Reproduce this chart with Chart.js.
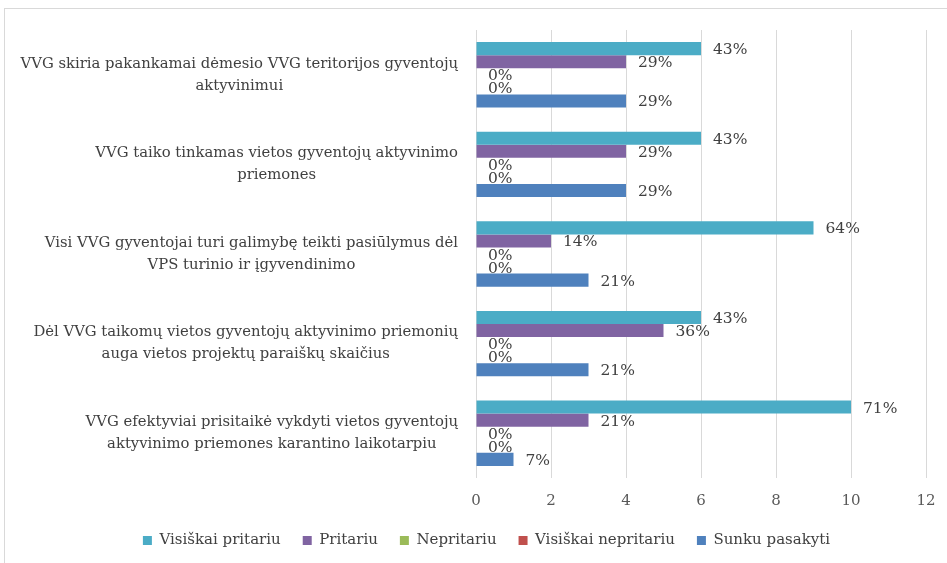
<!DOCTYPE html>
<html>
<head>
<meta charset="utf-8">
<script src="https://cdn.jsdelivr.net/npm/chart.js@4/dist/chart.umd.min.js"></script>
<style>
  html, body { margin: 0; padding: 0; background: #fff; }
  body { width: 947px; height: 563px; overflow: hidden; position: relative; }
  #frame {
    position: absolute; left: 4px; top: 8px; width: 960px; height: 580px;
    border: 1px solid #d9d9d9; box-sizing: border-box;
  }
  #chart { position: absolute; left: 5px; top: 9px; }
</style>
</head>
<body>
<div id="frame"></div>
<canvas id="chart" width="942" height="554"></canvas>
<script>
// category labels, already split into lines like the original
const categories = [
  ['VVG skiria pakankamai dėmesio VVG teritorijos gyventojų', 'aktyvinimui'],
  ['VVG taiko tinkamas vietos gyventojų aktyvinimo', 'priemones'],
  ['Visi VVG gyventojai turi galimybę teikti pasiūlymus dėl', 'VPS turinio ir įgyvendinimo'],
  ['Dėl VVG taikomų vietos gyventojų aktyvinimo priemonių', 'auga vietos projektų paraiškų skaičius'],
  ['VVG efektyviai prisitaikė vykdyti vietos gyventojų', 'aktyvinimo priemones karantino laikotarpiu'],
];

const seriesNames = ['Visiškai pritariu', 'Pritariu', 'Nepritariu', 'Visiškai nepritariu', 'Sunku pasakyti'];
const seriesColors = ['#4BACC6', '#8064A2', '#9BBB59', '#C0504D', '#4F81BD'];

// answer counts per category (14 respondents)
const visiskaiPritariu   = [6, 6, 9, 6, 10];
const pritariu           = [4, 4, 2, 5, 3];
const nepritariu         = [0, 0, 0, 0, 0];
const visiskaiNepritariu = [0, 0, 0, 0, 0];
const sunkuPasakyti      = [4, 4, 3, 3, 1];

const xTicks = [0, 2, 4, 6, 8, 10, 12];

const SERIF = '"DejaVu Serif", "Liberation Serif", serif';
const TEXT = '#404040';

const seriesData = [visiskaiPritariu, pritariu, nepritariu, visiskaiNepritariu, sunkuPasakyti];
const totals = categories.map((_, i) => seriesData.reduce((s, arr) => s + arr[i], 0));

// ─── percent labels at bar ends ─────────────────────────────────────────────
const barLabels = {
  id: 'barLabels',
  afterDatasetsDraw(chart) {
    const ctx = chart.ctx;
    ctx.save();
    ctx.font = '15.5px ' + SERIF;
    ctx.fillStyle = TEXT;
    ctx.textAlign = 'left';
    ctx.textBaseline = 'middle';
    chart.data.datasets.forEach((ds, di) => {
      const meta = chart.getDatasetMeta(di);
      meta.data.forEach((bar, i) => {
        const pct = Math.round(ds.data[i] / totals[i] * 100);
        ctx.fillText(pct + '%', bar.x + 12, bar.y + 1.5);
      });
    });
    ctx.restore();
  }
};

// ─── category labels: block right-aligned, lines centred ────────────────────
const catLabels = {
  id: 'catLabels',
  afterDraw(chart) {
    const ctx = chart.ctx;
    const y = chart.scales.y;
    const lh = 22;
    ctx.save();
    ctx.font = '14.8px ' + SERIF;
    ctx.fillStyle = TEXT;
    ctx.textAlign = 'center';
    ctx.textBaseline = 'middle';
    categories.forEach((lines, i) => {
      const cy = y.getPixelForTick(i);
      const w = Math.max(...lines.map(l => ctx.measureText(l).width));
      const cx = y.right - 18 - w / 2;
      const top = cy - (lines.length - 1) * lh / 2;
      lines.forEach((l, k) => ctx.fillText(l, cx, top + k * lh));
    });
    ctx.restore();
  }
};

new Chart(document.getElementById('chart'), {
  type: 'bar',
  data: {
    labels: categories,
    datasets: seriesNames.map((name, i) => ({
      label: name,
      data: seriesData[i],
      backgroundColor: seriesColors[i],
      borderWidth: 0,
      barPercentage: 1,
      categoryPercentage: 0.73,
    })),
  },
  options: {
    indexAxis: 'y',
    responsive: false,
    animation: false,
    layout: { padding: { top: 21, right: 21, bottom: 5, left: 42 } },
    plugins: {
      legend: {
        position: 'bottom',
        labels: {
          boxWidth: 9,
          boxHeight: 9,
          padding: 22,
          color: TEXT,
          font: { family: SERIF, size: 15 },
        },
      },
      tooltip: { enabled: false },
    },
    scales: {
      x: {
        min: 0,
        max: 12,
        afterBuildTicks: (s) => { s.ticks = xTicks.map(v => ({ value: v })); },
        afterFit: (s) => { s.height = 33; s.paddingRight = 0; s.paddingLeft = 0; },
        ticks: { color: '#595959', padding: 14, font: { family: SERIF, size: 15 } },
        grid: { color: '#d9d9d9', drawTicks: false },
        border: { display: false },
      },
      y: {
        afterFit: (s) => { s.width = 429; },
        ticks: { display: false },
        grid: { display: false, drawTicks: false },
        border: { display: false },
      },
    },
  },
  plugins: [barLabels, catLabels],
});
</script>
</body>
</html>
